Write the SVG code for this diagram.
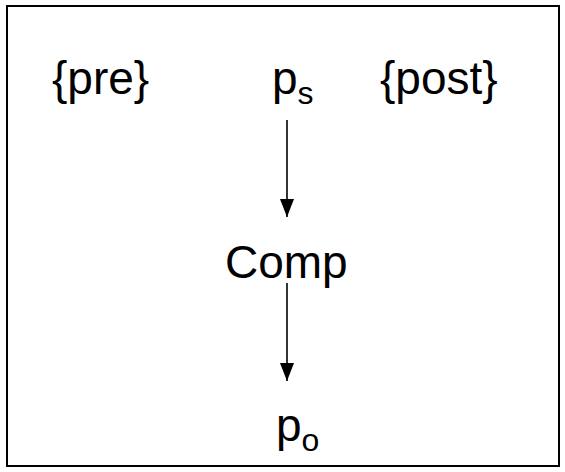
<svg xmlns="http://www.w3.org/2000/svg" width="565" height="472" viewBox="0 0 565 472">
<style>
.t{font-family:"Liberation Sans",Arial,sans-serif;font-size:46px;fill:#000}
.s{font-size:32px}
.c{stroke:#000;stroke-width:1.6;fill:none}
</style>
<defs><marker id="ah" markerWidth="18" markerHeight="14" refX="18" refY="7" orient="auto" markerUnits="userSpaceOnUse" viewBox="0 0 18 14"><path d="M0,0 L18,7 L0,14 Z" fill="#000"/></marker></defs>
<rect x="7" y="6" width="552" height="460" fill="#fff" stroke="#000" stroke-width="2"/>
<g id="pre"><text class="t" x="52" y="94">{pre}</text></g>
<g id="ps"><text class="t" x="272" y="94">p<tspan class="s" dy="10">s</tspan></text></g>
<g id="post"><text class="t" x="380" y="94">{post}</text></g>
<g id="comp"><text class="t" x="225" y="278">Comp</text></g>
<g id="po"><text class="t" x="276" y="441">p<tspan class="s" dy="10">o</tspan></text></g>
<g id="connectors">
<line class="c" x1="287" y1="120" x2="287" y2="217" marker-end="url(#ah)"/>
<line class="c" x1="287" y1="283" x2="287" y2="381" marker-end="url(#ah)"/>
</g>
</svg>
